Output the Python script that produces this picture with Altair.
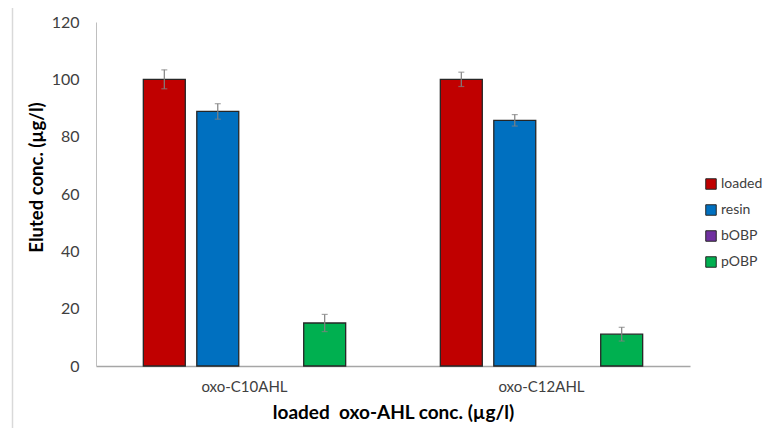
import altair as alt
import pandas as pd

groups = ["oxo-C10AHL", "oxo-C12AHL"]
series = ["loaded", "resin", "bOBP", "pOBP"]
colors = ["#C00000", "#0070C0", "#7030A0", "#00B050"]

loaded = [100.0, 100.0]
loaded_err = [3.3, 2.5]
resin = [88.8, 85.7]
resin_err = [2.7, 2.0]
bobp = [0.0, 0.0]
bobp_err = [0.0, 0.0]
pobp = [15.0, 11.1]
pobp_err = [3.0, 2.4]

rows = []
for s, vals, errs in zip(series, [loaded, resin, bobp, pobp],
                         [loaded_err, resin_err, bobp_err, pobp_err]):
    for g, v, e in zip(groups, vals, errs):
        rows.append(dict(group=g, series=s, value=v, err=e, lo=v - e, hi=v + e))
df = pd.DataFrame(rows)

FONT = "Lato"

x = alt.X(
    "group:N", sort=groups,
    scale=alt.Scale(paddingInner=0.28, paddingOuter=0.14),
    axis=alt.Axis(
        title="loaded\u00a0\u00a0oxo-AHL conc. (µg/l)", titleFont=FONT, titleFontSize=19,
        titleFontWeight="bold", titleColor="#000000", titlePadding=9,
        labelFont=FONT, labelFontSize=15, labelColor="#404040", labelAngle=0,
        labelPadding=13, ticks=False, domainColor="#a6a6a6", domainWidth=1.5,
    ),
)
xo = alt.XOffset(
    "series:N", sort=series,
    scale=alt.Scale(domain=series, paddingInner=0.215, paddingOuter=0.1075),
)
yax = alt.Axis(
    title="Eluted conc. (µg/l)", titleFont=FONT, titleFontSize=18.5,
    titleFontWeight="bold", titleColor="#000000", titleX=-50, titleY=155,
    titleAlign="center", titleAngle=270,
    labelFont=FONT, labelFontSize=16, labelColor="#404040", labelPadding=17,
    ticks=False, grid=False, values=[0, 20, 40, 60, 80, 100, 120],
    domainColor="#bfbfbf", domainWidth=1,
)

base = alt.Chart(df).transform_filter("datum.value > 0")

bars = base.mark_bar(stroke="#262626", strokeWidth=1.3).encode(
    x=x, xOffset=xo,
    y=alt.Y("value:Q", scale=alt.Scale(domain=[0, 120], nice=False), axis=yax),
    color=alt.Color(
        "series:N",
        scale=alt.Scale(domain=series, range=colors),
        legend=alt.Legend(
            title=None, orient="none", legendX=608, legendY=155,
            symbolType="square", symbolSize=110, symbolStrokeColor="#262626",
            symbolStrokeWidth=1, symbolOpacity=1, labelFont=FONT,
            labelFontSize=14, labelColor="#404040", rowPadding=10,
            labelOffset=3,
        ),
    ),
)

rules = base.mark_rule(color="#808080", strokeWidth=1.2).encode(
    x=x, xOffset=xo, y="lo:Q", y2="hi:Q"
)
cap_hi = base.mark_tick(color="#808080", thickness=1.2, size=6).encode(
    x=x, xOffset=xo, y="hi:Q"
)
cap_lo = base.mark_tick(color="#808080", thickness=1.2, size=6).encode(
    x=x, xOffset=xo, y="lo:Q"
)

frame = alt.Chart(pd.DataFrame({"a": [0]})).mark_rect(
    fill="transparent", stroke="#d9d9d9", strokeWidth=1.5
).encode(
    x=alt.value(-83.5), x2=alt.value(720), y=alt.value(-15.5), y2=alt.value(440)
)

chart = alt.layer(frame, bars, rules, cap_hi, cap_lo).properties(
    width=594, height=344,
    autosize=alt.AutoSizeParams(type="none"),
    padding={"left": 88, "top": 14, "right": 75, "bottom": 62},
).configure_view(strokeWidth=0)

chart.save("out.html", embed_options={"renderer": "svg", "actions": False})
